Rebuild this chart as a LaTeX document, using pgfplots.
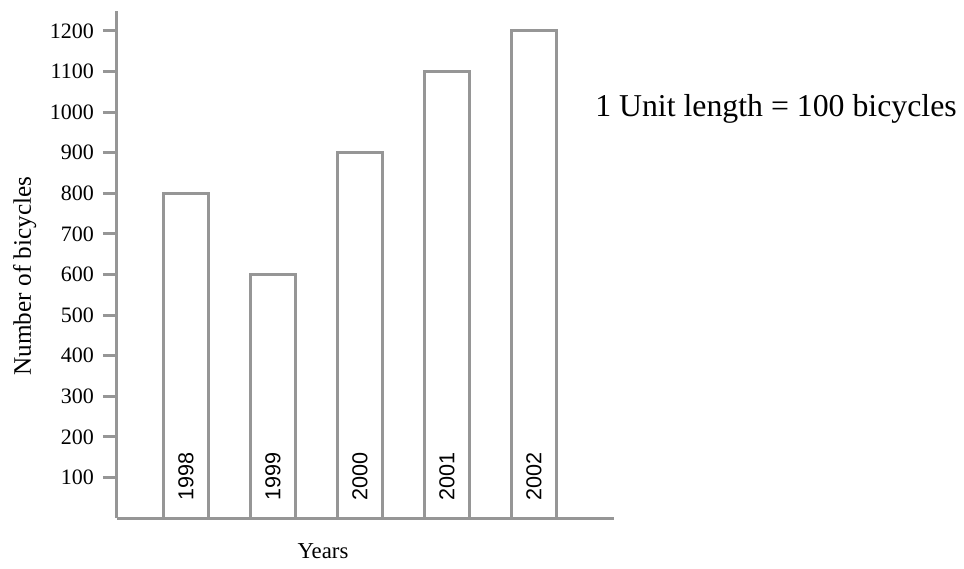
\documentclass[border=0pt]{standalone}
\usepackage{pgfplots}
\usepackage{fontspec}
\setmainfont{Liberation Serif}
\newfontfamily\yearfont{Liberation Sans}
\pgfplotsset{compat=1.18}
\definecolor{axgray}{RGB}{150,150,150}

\begin{document}
\begin{tikzpicture}
\path[use as bounding box] (-58.5pt,-25pt) rectangle (423.5pt,259pt);
\begin{axis}[
    at={(0,0)}, anchor=south west,
    scale only axis,
    width=248.5pt, height=253.5pt,
    xmin=-0.793, xmax=4.92,
    ymin=0, ymax=1249,
    axis x line=bottom,
    axis y line=left,
    axis line style={-, draw=axgray, line width=1.5pt},
    xtick=\empty,
    ytick={100,200,...,1200},
    tick align=outside,
    major tick length=7pt,
    tick style={draw=axgray, line width=1.5pt},
    yticklabel style={font=\fontsize{11}{13}\selectfont, xshift=-1pt},
    /pgf/number format/assume math mode=true,
    /pgf/number format/1000 sep={},
    ybar,
    bar width=22.5pt,
    clip=false,
]
\addplot[draw=axgray, fill=white, line width=1.5pt] coordinates {
    (0, 800)
    (1, 600)
    (2, 900)
    (3, 1100)
    (4, 1200)
};

\foreach \k/\yr in {0/1998,1/1999,2/2000,3/2001,4/2002} {
    \edef\tmp{\noexpand\node[rotate=90, anchor=west, inner sep=0pt,
        font=\noexpand\yearfont\noexpand\fontsize{10.8}{12}\noexpand\selectfont]
        at (axis cs:\k,42) {\yr};}
    \tmp
}

\node[anchor=base west, inner sep=0pt, font=\fontsize{15.9}{18}\selectfont]
    at (axis cs:4.70,988) {1 Unit length = 100 bicycles};
\node[anchor=base, inner sep=0pt, yshift=-20pt, font=\fontsize{11.4}{13}\selectfont]
    at (axis cs:1.575,0) {Years};
% rotated node: local y points left
\node[anchor=base, rotate=90, inner sep=0pt, yshift=43pt, font=\fontsize{12.6}{14}\selectfont]
    at (axis cs:-0.793,596) {Number of bicycles};
\end{axis}
\end{tikzpicture}
\end{document}
